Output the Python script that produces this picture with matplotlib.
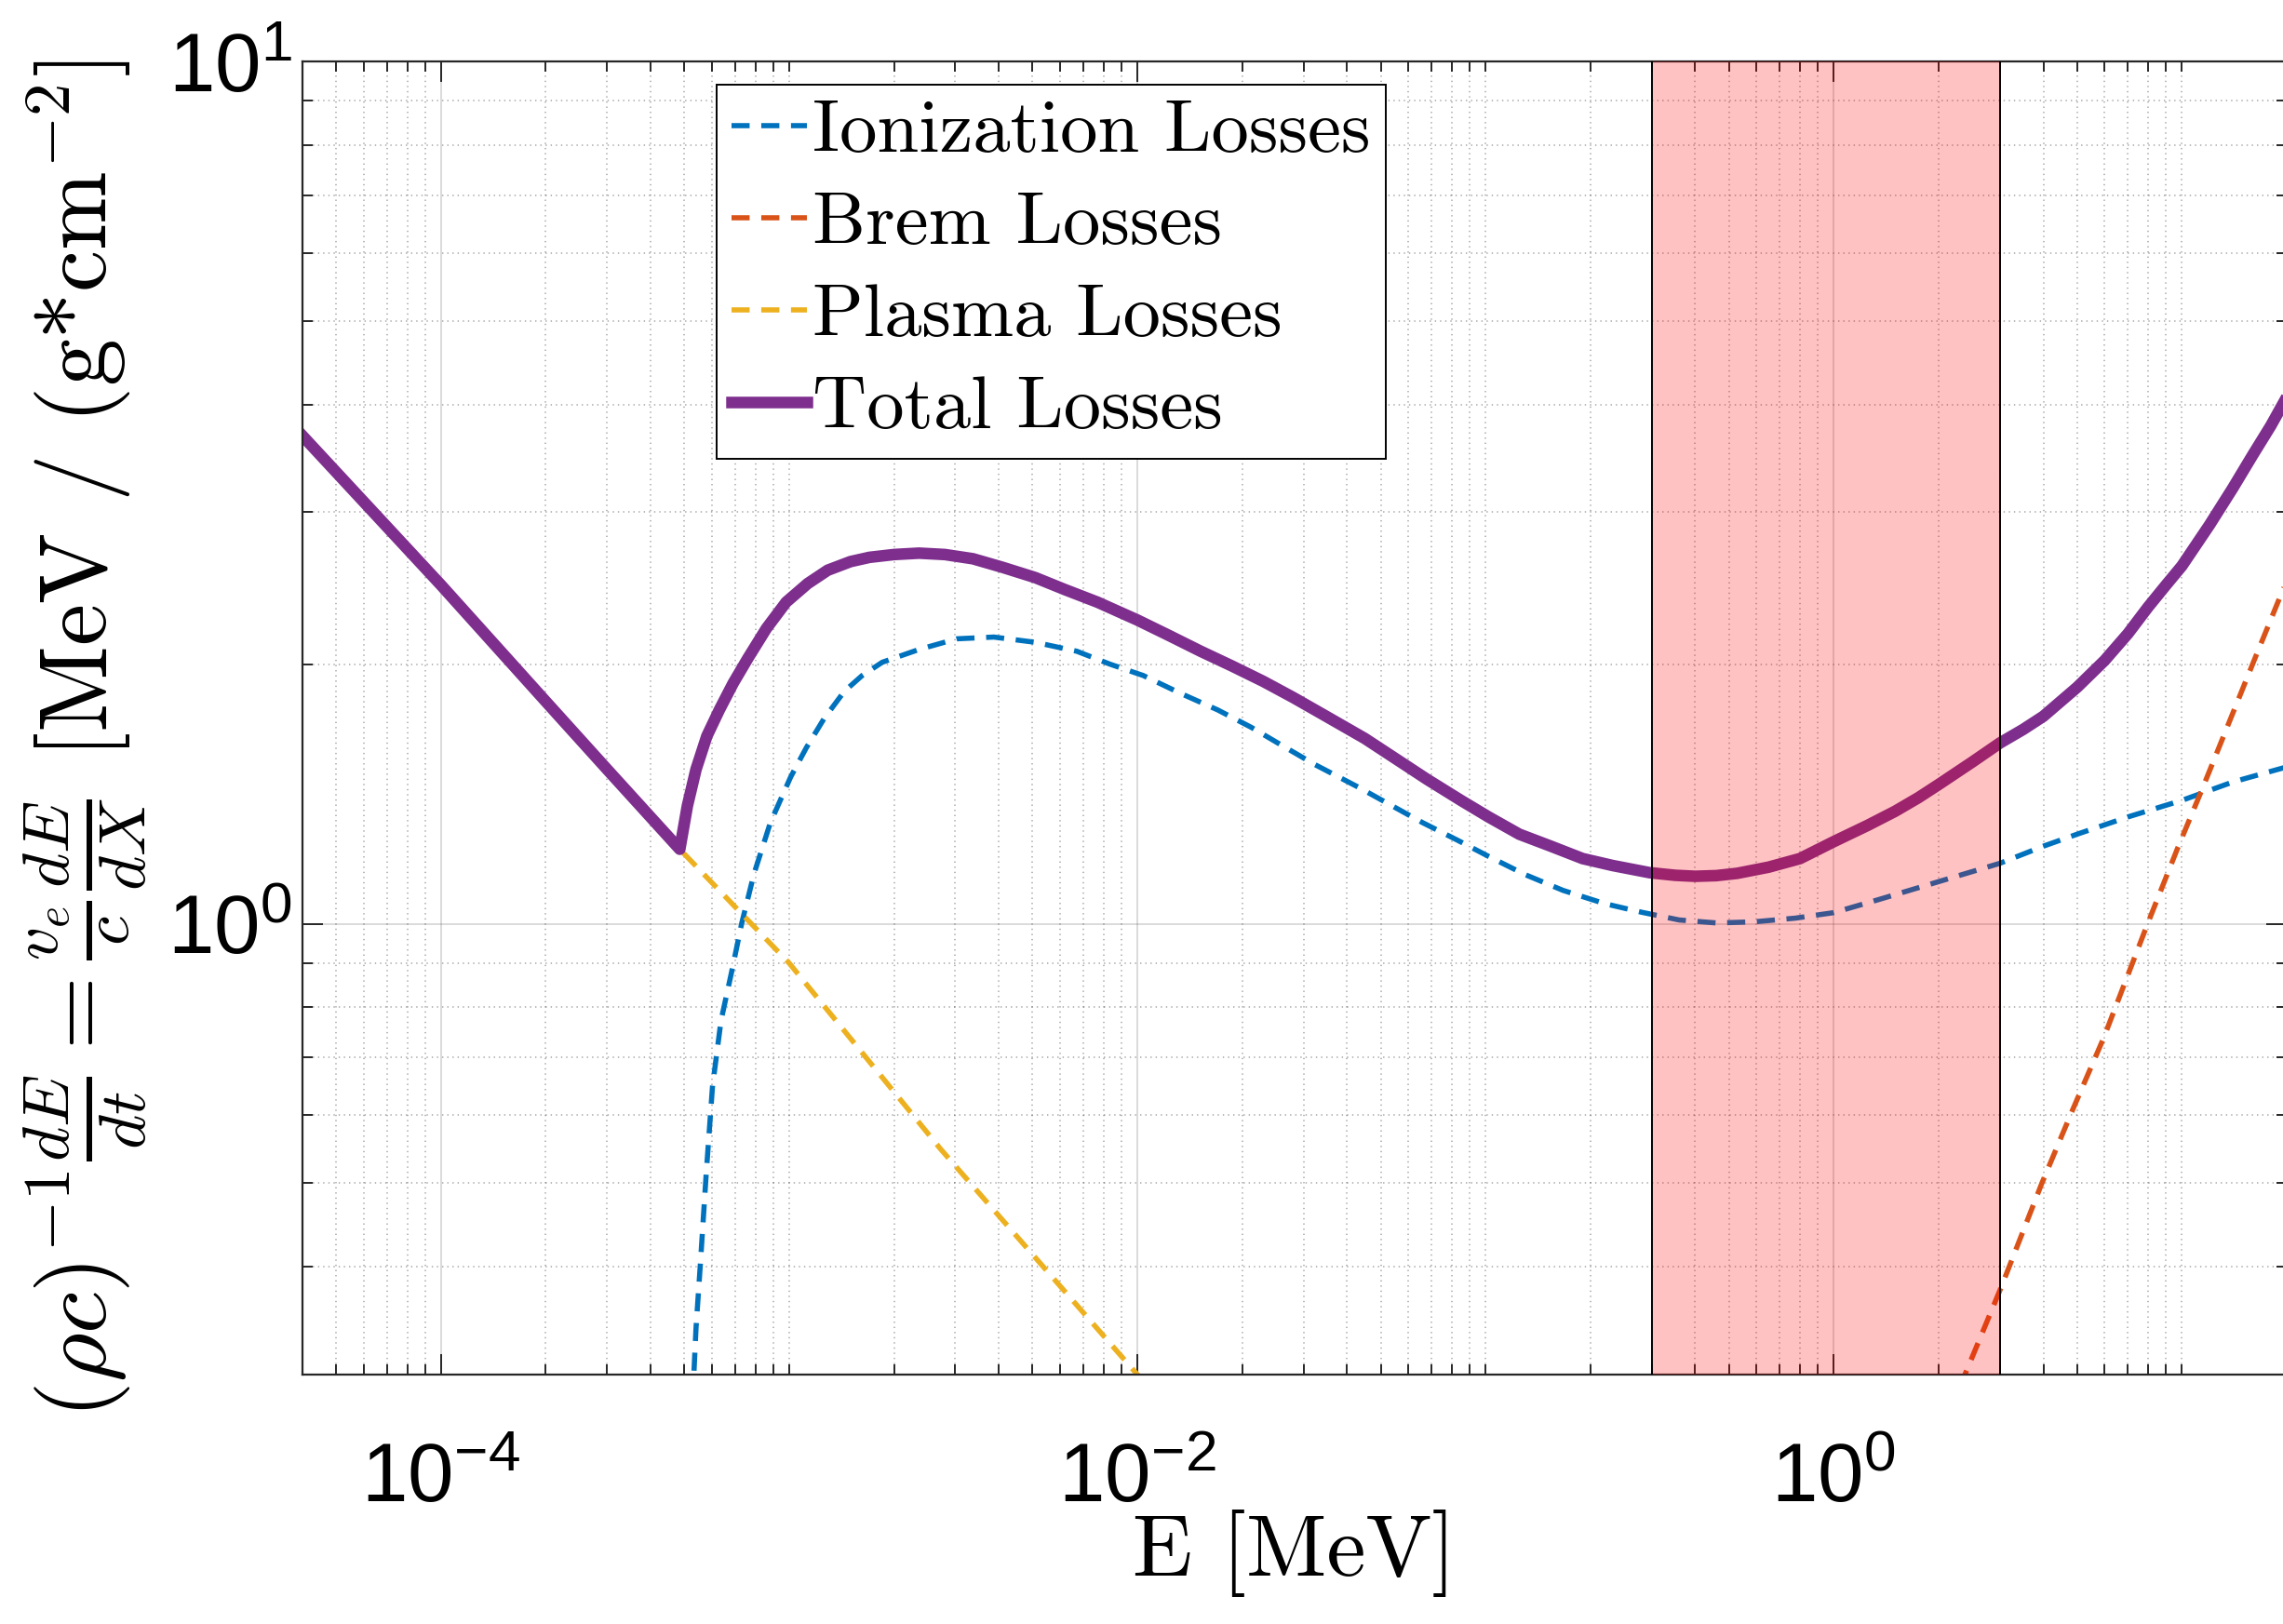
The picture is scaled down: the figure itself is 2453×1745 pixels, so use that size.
import numpy as np
import matplotlib
matplotlib.use('Agg')
import matplotlib.pyplot as plt
from matplotlib.ticker import FixedLocator, FuncFormatter, LogLocator, NullFormatter

# Значения (E в МэВ, потери в MeV / (g cm^-2))
E_total = [4.0e-5, 1.0e-4, 2.0e-4, 3.0e-4, 4.85e-4, 5.1e-4, 5.4e-4, 5.8e-4, 6.3e-4,
           6.9e-4, 7.6e-4, 8.6e-4, 9.8e-4, 1.13e-3, 1.29e-3, 1.5e-3, 1.7e-3, 2.0e-3,
           2.36e-3, 2.8e-3, 3.37e-3, 4.1e-3, 5.09e-3, 6.2e-3, 7.68e-3, 1.0e-2,
           1.23e-2, 1.52e-2, 1.87e-2, 2.3e-2, 2.8e-2, 3.4e-2, 4.5e-2, 6.8e-2, 0.085,
           0.102, 0.125, 0.154, 0.19, 0.232, 0.296, 0.35, 0.40, 0.46, 0.528, 0.65,
           0.80, 1.0, 1.25, 1.5, 1.75, 2.0, 2.5, 3.0, 3.5, 4.0, 5.0, 6.0, 7.0, 8.0,
           9.0, 10.0, 12.0, 14.0, 16.0, 18.0, 20.0]
total = [3.68, 2.47, 1.81, 1.51, 1.22, 1.37, 1.51, 1.65, 1.77,
         1.90, 2.03, 2.20, 2.36, 2.48, 2.57, 2.63, 2.66, 2.68,
         2.69, 2.68, 2.65, 2.59, 2.52, 2.44, 2.36, 2.25,
         2.16, 2.07, 1.99, 1.91, 1.83, 1.75, 1.64, 1.47, 1.39,
         1.33, 1.27, 1.23, 1.19, 1.168, 1.146, 1.138, 1.135, 1.137, 1.144, 1.163,
         1.19, 1.245, 1.30, 1.35, 1.40, 1.45, 1.54, 1.62, 1.68, 1.74, 1.88, 2.02, 2.17, 2.33,
         2.47, 2.60, 2.90, 3.20, 3.50, 3.78, 4.08]

E_ion = [5.28e-4, 5.4e-4, 5.55e-4, 5.78e-4, 6.02e-4, 6.37e-4, 6.82e-4, 7.3e-4, 7.92e-4,
         8.83e-4, 1.01e-3, 1.12e-3, 1.26e-3, 1.44e-3, 1.62e-3, 1.85e-3, 2.36e-3,
         3.03e-3, 3.87e-3, 5.09e-3, 6.7e-3, 8.34e-3, 1.04e-2, 1.33e-2, 1.7e-2,
         2.12e-2, 2.6e-2, 3.23e-2, 4.31e-2, 6.59e-2, 0.083, 0.102, 0.13, 0.167,
         0.22, 0.281, 0.36, 0.461, 0.59, 0.776, 1.0, 1.34, 2.14, 3.0,
         4.0, 5.0, 7.0, 10.0, 14.0, 20.0]
ion = [0.28, 0.34, 0.40, 0.515, 0.647, 0.772, 0.876, 1.0, 1.142,
       1.31, 1.48, 1.60, 1.73, 1.86, 1.94, 2.01, 2.08,
       2.14, 2.15, 2.12, 2.07, 2.0, 1.94, 1.85, 1.77,
       1.69, 1.61, 1.53, 1.44, 1.31, 1.25, 1.197, 1.14, 1.093,
       1.055, 1.031, 1.01, 1.002, 1.005, 1.015, 1.03, 1.066, 1.128, 1.175,
       1.23, 1.27, 1.33, 1.39, 1.46, 1.52]

E_brem = [2.3, 3.02, 3.96, 4.86, 5.96, 7.94, 9.74, 11.47, 16.2, 20.0]
brem = [0.29, 0.378, 0.50, 0.609, 0.737, 0.996, 1.226, 1.437, 2.03, 2.5]

E_plasma = [4.0e-5, 1.0e-4, 4.85e-4, 1.0e-3, 2.72e-3, 1.0e-2, 1.1e-2]
plasma = [3.68, 2.47, 1.22, 0.90, 0.548, 0.30, 0.287]

band = [0.3, 3.0]

plt.rcParams['mathtext.fontset'] = 'custom'
plt.rcParams['mathtext.rm'] = 'Liberation Sans'
plt.rcParams['mathtext.it'] = 'Liberation Sans:italic'
plt.rcParams['mathtext.bf'] = 'Liberation Sans:bold'
plt.rcParams['font.family'] = 'Liberation Sans'
plt.rcParams['lines.scale_dashes'] = False

fig = plt.figure(figsize=(24.53, 17.45), dpi=100)
ax = fig.add_axes([325 / 2453, 1 - 1477 / 1745, 2132 / 2453, 1411 / 1745])

dash = (0, (14, 9))
ax.plot(E_ion, ion, color='#0072BD', lw=4.0, linestyle=dash, label='Ionization Losses', zorder=2)
ax.plot(E_brem, brem, color='#D95319', lw=4.0, linestyle=dash, label='Brem Losses', zorder=2)
ax.plot(E_plasma, plasma, color='#EDB120', lw=4.0, linestyle=dash, label='Plasma Losses', zorder=2)
ax.plot(E_total, total, color='#7E2F8E', lw=9, label='Total Losses', zorder=2.5,
        solid_joinstyle='round')

ax.axvspan(band[0], band[1], facecolor='red', alpha=0.24, lw=0, zorder=3)
for b in band:
    ax.axvline(b, color='black', lw=1.4, zorder=3.1)

ax.set_xscale('log')
ax.set_yscale('log')
ax.set_xlim(4e-5, 20)
ax.set_ylim(0.3, 10)

fmt = FuncFormatter(lambda v, p: r'$10^{%d}$' % round(np.log10(v)))
ax.xaxis.set_major_locator(FixedLocator([1e-4, 1e-2, 1e0]))
ax.xaxis.set_minor_locator(LogLocator(base=10, subs=np.arange(1, 10), numticks=50))
ax.yaxis.set_major_locator(FixedLocator([1e0, 1e1]))
ax.yaxis.set_minor_locator(LogLocator(base=10, subs=np.arange(1, 10), numticks=50))
ax.xaxis.set_major_formatter(fmt)
ax.yaxis.set_major_formatter(fmt)
ax.xaxis.set_minor_formatter(NullFormatter())
ax.yaxis.set_minor_formatter(NullFormatter())

ax.tick_params(which='both', direction='in', top=True, right=True, colors='#262626', width=1.4)
ax.tick_params(which='major', length=16, labelsize=64)
ax.tick_params(which='minor', length=8)
ax.tick_params(axis='x', which='major', pad=52)
ax.tick_params(axis='y', which='major', pad=8)
for lab in ax.get_xticklabels() + ax.get_yticklabels():
    lab.set_color('black')

ax.grid(True, which='major', color='#262626', alpha=0.18, lw=1.3, linestyle='-')
ax.grid(True, which='minor', color='#262626', alpha=0.35, lw=1.3, linestyle=(0, (1, 3)))
for s in ax.spines.values():
    s.set_color('#262626')
    s.set_linewidth(1.6)

ax.set_xlabel('E [MeV]', fontfamily='cmr10', fontsize=68)
ax.xaxis.set_label_coords(0.5, -0.103)
ylab = ax.set_ylabel(r'$(\rho c)^{-1}\frac{dE}{dt} = \frac{v_e}{c}\frac{dE}{dX}$ [MeV / (g*cm$^{-2}$]',
                     fontfamily='cmr10', fontsize=73)
ylab.set_math_fontfamily('cm')
ax.yaxis.set_label_coords(-0.077, 0.484)

leg = ax.legend(loc='upper left', bbox_to_anchor=(0.2087, 0.9823), borderaxespad=0,
                prop={'family': 'cmr10', 'size': 58}, handlelength=1.0, handletextpad=0.08,
                labelspacing=0.33, borderpad=0.2, fancybox=False, framealpha=1, edgecolor='black')
leg.get_frame().set_linewidth(1.4)

fig.savefig('out.png', dpi=100)
